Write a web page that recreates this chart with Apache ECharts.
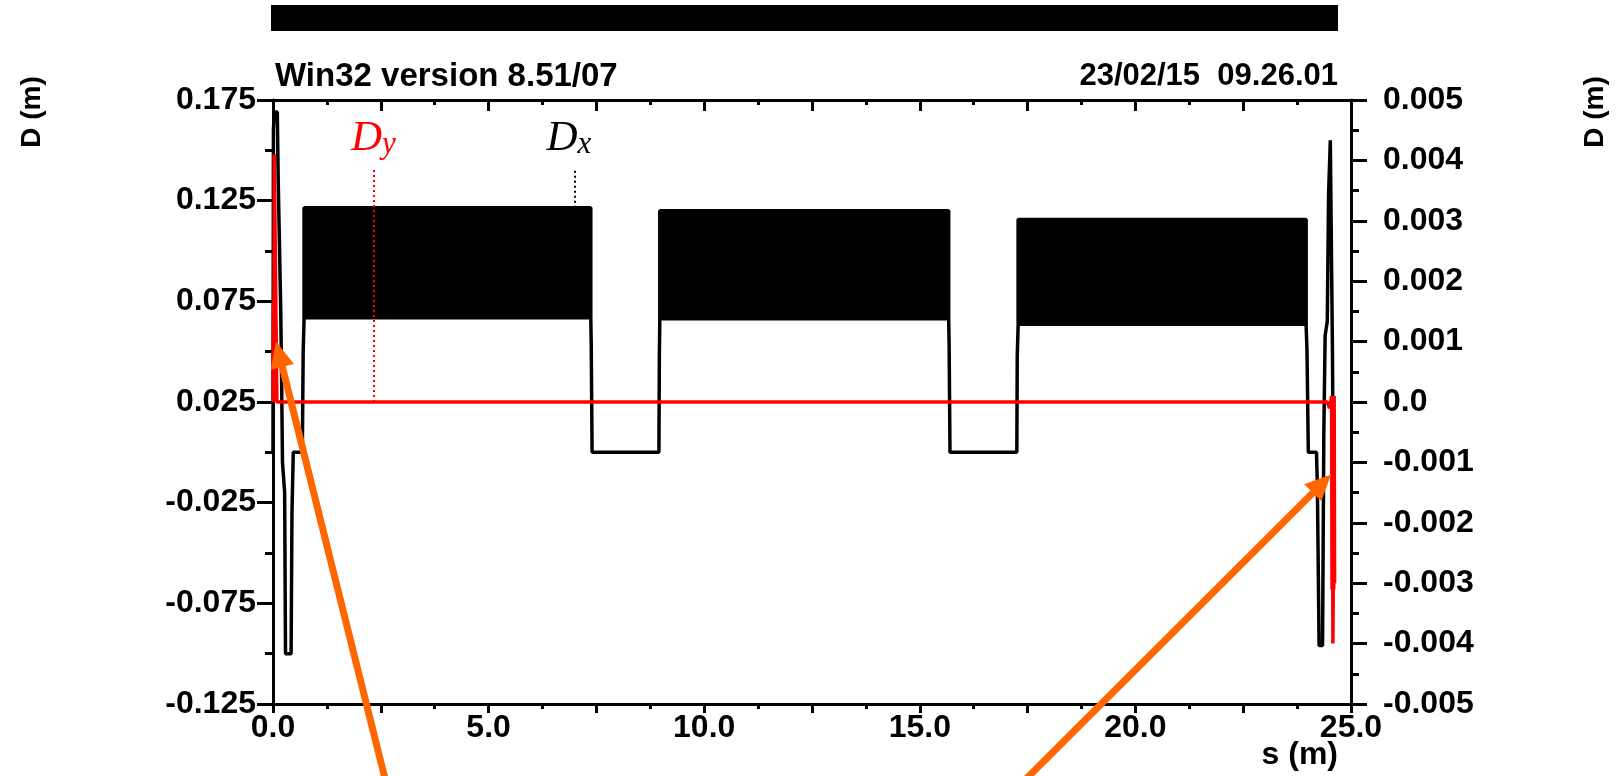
<!DOCTYPE html>
<html>
<head>
<meta charset="utf-8">
<title>Dispersion</title>
<script src="https://cdn.jsdelivr.net/npm/echarts@6/dist/echarts.min.js"></script>
<style>
  html, body { margin: 0; padding: 0; background: #fff; }
  #chart { width: 1618px; height: 776px; }
</style>
</head>
<body>
<div id="chart"></div>
<script>
// Horizontal dispersion Dx (m) along the ring, s (m)
const dxS = [0, 0.01, 0.03, 0.10, 0.12, 0.16, 0.18, 0.20, 0.22, 0.27, 0.29, 0.42, 0.44, 0.47, 0.68, 0.70, 0.72, 0.72,
             7.37, 7.37, 7.38, 7.40, 8.95, 8.96, 8.97, 8.97,
             15.67, 15.67, 15.68, 15.70, 17.25, 17.26, 17.28, 17.28,
             23.96, 23.96, 23.98, 24.01, 24.20, 24.22, 24.26, 24.34, 24.37, 24.40, 24.45, 24.48, 24.52, 24.55, 24.57, 24.59, 24.61];
const dxV = [0.0, 0.160, 0.169, 0.169, 0.136, 0.136, 0.070, 0.035, -0.005, -0.020, -0.100, -0.100, -0.030, 0.0, 0.0, 0.050, 0.066, 0.1215,
             0.1215, 0.066, 0.054, 0.0, 0.0, 0.048, 0.0655, 0.1200,
             0.1200, 0.0655, 0.054, 0.0, 0.0, 0.048, 0.0627, 0.1157,
             0.1157, 0.0627, 0.050, 0.0, 0.0, -0.017, -0.096, -0.096, 0.010, 0.058, 0.065, 0.128, 0.155, 0.155, 0.050, -0.020, 0.0];

// Dipole sections where Dx swings quickly between these limits
const bandStart = [0.72, 8.97, 17.28];
const bandEnd   = [7.37, 15.67, 23.96];
const bandLow   = [0.066, 0.0655, 0.0627];
const bandHigh  = [0.1215, 0.1200, 0.1157];

// Vertical dispersion Dy (m)
const dyS = [0, 0.01, 0.02, 0.03, 0.06, 0.09, 0.12, 24.45, 24.50, 24.53, 24.55, 24.56, 24.57, 24.58, 24.59, 24.60, 24.61, 24.62];
const dyV = [0.0, 0.0017, 0.0, 0.0041, 0.0041, 0.0, 0.0, 0.0, -0.0001, 0.0, 0.0001, -0.0031, 0.0001, -0.0040, -0.0029, -0.0031, 0.0001, -0.0030];

// Axis tick values
const leftLabels  = [-0.125, -0.075, -0.025, 0.025, 0.075, 0.125, 0.175];
const rightLabels = [-0.005, -0.004, -0.003, -0.002, -0.001, 0.0, 0.001, 0.002, 0.003, 0.004, 0.005];
const sLabels     = [0, 5, 10, 15, 20, 25];

// Curve tags: position along s and the extent of their dotted leaders
const dxTagS = 7.0,  dxTagFrom = 0.1215, dxTagTo = 0.1402;
const dyTagS = 2.33, dyTagFrom = 0.0,    dyTagTo = 0.00384;

// Arrows: [s, Dy] of tail and tip
const arrowTails = [[2.69, -0.0065], [17.1, -0.0065]];
const arrowTips  = [[0.07, 0.0010], [24.54, -0.0012]];

const SANS = '"Liberation Sans", Arial, Helvetica, sans-serif';
const SERIF = '"Liberation Serif", "DejaVu Serif", "Times New Roman", serif';
const BLACK = '#000000', RED = '#ff0000', ORANGE = '#ff6600';

const zip = (a, b) => a.map((v, i) => [v, b[i]]);
const near = (v, list) => list.some(t => Math.abs(t - v) < 1e-9);

const labelStyle = { color: BLACK, fontFamily: SANS, fontWeight: 'bold', fontSize: 32 };
const axisLine = { show: true, onZero: false, lineStyle: { color: BLACK, width: 3 } };

const chart = echarts.init(document.getElementById('chart'), null, { renderer: 'canvas' });

const tagRich = color => ({
  d: { fontFamily: SERIF, fontStyle: 'italic', fontSize: 43, lineHeight: 43, color },
  s: { fontFamily: SERIF, fontStyle: 'italic', fontSize: 31, lineHeight: 16, verticalAlign: 'bottom', color }
});

const option = {
  animation: false,
  backgroundColor: '#ffffff',
  title: [
    { text: 'Win32 version 8.51/07', left: 275, top: 60, padding: 0,
      textStyle: { color: BLACK, fontFamily: SANS, fontWeight: 'bold', fontSize: 33 } },
    { text: '23/02/15  09.26.01', right: 280, top: 61, padding: 0,
      textStyle: { color: BLACK, fontFamily: SANS, fontWeight: 'bold', fontSize: 31 } }
  ],
  grid: { left: 273, right: 267, top: 100, bottom: 72 },
  xAxis: [
    { type: 'value', position: 'bottom', min: 0, max: 25, interval: 2.5,
      axisLine, splitLine: { show: false },
      axisTick: { show: true, length: 9, lineStyle: { color: BLACK, width: 3 } },
      minorTick: { show: true, splitNumber: 2, length: 5, lineStyle: { color: BLACK, width: 3 } },
      axisLabel: Object.assign({ margin: 8, showMinLabel: true, showMaxLabel: true,
        formatter: v => near(v, sLabels) ? v.toFixed(1) : '' }, labelStyle) },
    { type: 'value', position: 'top', min: 0, max: 25, interval: 2.5,
      axisLine, splitLine: { show: false },
      axisTick: { show: true, inside: true, length: 11, lineStyle: { color: BLACK, width: 3 } },
      minorTick: { show: true, splitNumber: 2, length: 5, lineStyle: { color: BLACK, width: 3 } },
      axisLabel: { show: false } }
  ],
  yAxis: [
    { type: 'value', position: 'left', min: -0.125, max: 0.175, interval: 0.025,
      axisLine, splitLine: { show: false },
      axisTick: { show: true, length: 16, customValues: leftLabels, lineStyle: { color: BLACK, width: 3 } },
      axisLabel: Object.assign({ margin: 17, customValues: leftLabels,
        formatter: v => v.toFixed(3) }, labelStyle) },
    { type: 'value', position: 'left', min: -0.125, max: 0.175, interval: 0.025,
      axisLine: { show: false }, splitLine: { show: false },
      axisTick: { show: true, length: 8, lineStyle: { color: BLACK, width: 3 } },
      axisLabel: { show: false } },
    { type: 'value', position: 'right', min: -0.005, max: 0.005, interval: 0.001,
      axisLine, splitLine: { show: false },
      axisTick: { show: true, length: 16, lineStyle: { color: BLACK, width: 3 } },
      minorTick: { show: true, splitNumber: 2, length: 8, lineStyle: { color: BLACK, width: 3 } },
      axisLabel: Object.assign({ margin: 32, customValues: rightLabels,
        formatter: v => Math.abs(v) < 1e-12 ? '0.0' : v.toFixed(3) }, labelStyle) }
  ],
  series: [
    {
      name: 'Dx band', type: 'custom', xAxisIndex: 0, yAxisIndex: 0, z: 3,
      data: bandStart.map((s, i) => [s, bandEnd[i], bandLow[i], bandHigh[i]]),
      encode: { x: [0, 1], y: [2, 3] },
      renderItem: (params, api) => {
        const a = api.coord([api.value(0), api.value(3)]);
        const b = api.coord([api.value(1), api.value(2)]);
        return { type: 'rect', shape: { x: a[0], y: a[1], width: b[0] - a[0], height: b[1] - a[1] },
                 style: { fill: BLACK } };
      }
    },
    {
      name: 'Dx', type: 'line', xAxisIndex: 0, yAxisIndex: 0, z: 4,
      data: zip(dxS, dxV), symbol: 'none', smooth: false,
      lineStyle: { color: BLACK, width: 3.5 },
      markLine: {
        silent: true, symbol: ['none', 'none'],
        lineStyle: { color: BLACK, width: 2, type: [2, 3] },
        label: { show: true, position: 'end', distance: 10, offset: [-6, 0], formatter: '{d|D}{s|x}',
                 rich: tagRich(BLACK) },
        data: [[{ coord: [dxTagS, dxTagFrom] }, { coord: [dxTagS, dxTagTo] }]]
      }
    },
    {
      name: 'Dy', type: 'line', xAxisIndex: 0, yAxisIndex: 2, z: 5,
      data: zip(dyS, dyV), symbol: 'none', smooth: false,
      lineStyle: { color: RED, width: 3.5 },
      markLine: {
        silent: true, symbol: ['none', 'none'],
        lineStyle: { color: RED, width: 2, type: [2, 3] },
        label: { show: true, position: 'end', distance: 10, formatter: '{d|D}{s|y}',
                 rich: tagRich(RED) },
        data: [[{ coord: [dyTagS, dyTagFrom] }, { coord: [dyTagS, dyTagTo] }]]
      }
    }
  ]
};

chart.setOption(option);

// Decorations: header bar, axis names and the two pointer arrows
const graphics = [];
const origin = chart.convertToPixel({ seriesIndex: 2 }, [0, 0.005]);
const rightEdge = 1338;
graphics.push({ type: 'rect', shape: { x: origin[0] - 2, y: 5, width: rightEdge - origin[0] + 2, height: 26 },
                style: { fill: BLACK }, silent: true });
graphics.push({ type: 'text', x: 32, y: 112, rotation: Math.PI / 2,
                style: { text: 'D (m)', fill: BLACK, font: 'bold 28px ' + SANS, align: 'center', verticalAlign: 'middle' } });
graphics.push({ type: 'text', x: 1595, y: 112, rotation: Math.PI / 2,
                style: { text: 'D (m)', fill: BLACK, font: 'bold 28px ' + SANS, align: 'center', verticalAlign: 'middle' } });
graphics.push({ type: 'text', x: rightEdge, y: 739,
                style: { text: 's (m)', fill: BLACK, font: 'bold 32px ' + SANS, align: 'right', verticalAlign: 'top' } });

arrowTips.forEach((tipVal, i) => {
  const tail = chart.convertToPixel({ seriesIndex: 2 }, arrowTails[i]);
  const tip = chart.convertToPixel({ seriesIndex: 2 }, tipVal);
  const dx = tip[0] - tail[0], dy = tip[1] - tail[1];
  const len = Math.sqrt(dx * dx + dy * dy);
  const ux = dx / len, uy = dy / len;
  const headLen = 26, headHalf = 12;
  const bx = tip[0] - ux * headLen, by = tip[1] - uy * headLen;
  graphics.push({ type: 'line', z: 100, silent: true,
    shape: { x1: tail[0], y1: tail[1], x2: bx + ux * 2, y2: by + uy * 2 },
    style: { stroke: ORANGE, lineWidth: 7 } });
  graphics.push({ type: 'polygon', z: 100, silent: true,
    shape: { points: [[tip[0], tip[1]], [bx - uy * headHalf, by + ux * headHalf], [bx + uy * headHalf, by - ux * headHalf]] },
    style: { fill: ORANGE } });
});

chart.setOption({ graphic: graphics });
</script>
</body>
</html>
